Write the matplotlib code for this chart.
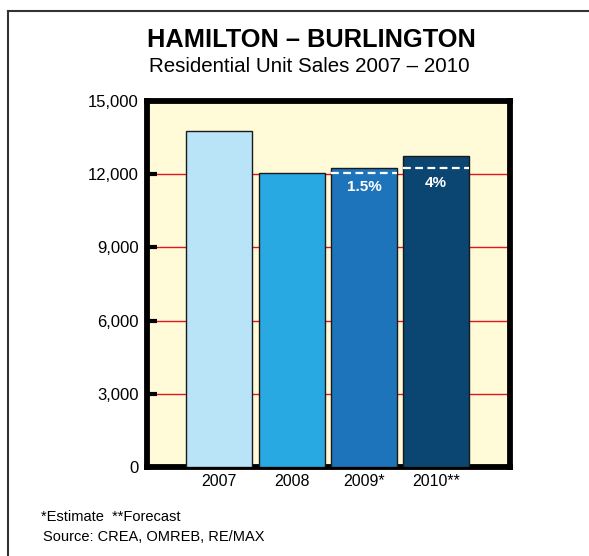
import matplotlib.pyplot as plt
from matplotlib.lines import Line2D

plt.rcParams['font.family'] = ['Liberation Sans', 'DejaVu Sans']

years = ['2007', '2008', '2009*', '2010**']
sales = [13780, 12060, 12240, 12730]
colors = ['#B9E4F7', '#29A9E1', '#1E74BB', '#0B4572']
# previous-year level shown as dashed line, with change label
prev_level = [None, None, 12060, 12240]
change = [None, None, '1.5%', '4%']
y_ticks = [0, 3000, 6000, 9000, 12000, 15000]

fig = plt.figure(figsize=(5.89, 5.56), dpi=100)
fig.patch.set_facecolor('white')

# partial frame (top and left edges)
fig.add_artist(Line2D([8 / 589, 1], [1 - 11 / 556] * 2, transform=fig.transFigure,
                      color='#333333', lw=1.5))
fig.add_artist(Line2D([8 / 589] * 2, [0, 1 - 11 / 556], transform=fig.transFigure,
                      color='#333333', lw=1.5))

ax = fig.add_axes([147 / 589, 1 - 467 / 556, 363 / 589, 366 / 556])
ax.set_facecolor('#FFFBD9')

x = list(range(len(years)))
ax.bar(x, sales, width=0.91, color=colors, edgecolor='#1a1a1a', linewidth=1.0, zorder=3)

for i in x:
    if prev_level[i] is not None:
        ax.hlines(prev_level[i], i - 0.455, i + 0.455, colors='white', linestyles=(0, (3.5, 2)),
                  linewidth=1.6, zorder=4)
        ax.text(i, prev_level[i] - 600, change[i], color='white', fontsize=11,
                fontweight='bold', ha='center', va='center', zorder=5)

for y in y_ticks[1:-1]:
    ax.axhline(y, color='#E3151F', linewidth=1.0, zorder=1)

ax.set_xlim(-1.0, 4.02)
ax.set_ylim(0, 15000)
ax.set_yticks(y_ticks)
ax.set_yticklabels([f'{v:,}' for v in y_ticks], fontsize=12)
ax.set_xticks(x)
ax.set_xticklabels(years, fontsize=11.5)
ax.tick_params(axis='y', direction='in', length=7, width=3, pad=6, color='black')
ax.tick_params(axis='x', length=0, pad=5)
for s in ax.spines.values():
    s.set_linewidth(4.2)
    s.set_color('black')

fig.text(311 / 589, 1 - 40 / 556, 'HAMILTON – BURLINGTON', fontsize=18.3, fontweight='bold',
         ha='center', va='center')
fig.text(309 / 589, 1 - 67 / 556, 'Residential Unit Sales 2007 – 2010', fontsize=14.8,
         ha='center', va='center')
fig.text(41 / 589, 1 - 517 / 556, '*Estimate  **Forecast', fontsize=10.5, ha='left', va='center')
fig.text(43 / 589, 1 - 537 / 556, 'Source: CREA, OMREB, RE/MAX', fontsize=10.5, ha='left', va='center')

fig.savefig('out.png', dpi=100)
